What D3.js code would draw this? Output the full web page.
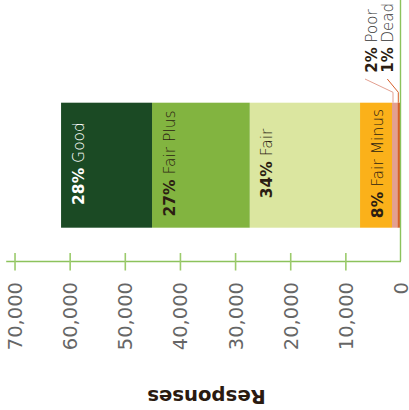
<!DOCTYPE html>
<html>
<head>
<meta charset="utf-8">
<script src="https://cdn.jsdelivr.net/npm/d3@7"></script>
<style>
  html, body { margin: 0; padding: 0; background: #ffffff; }
  svg { display: block; }
  text { font-family: "DejaVu Sans", sans-serif; }
</style>
</head>
<body>
<script>
// ---- data ----
const categories = ["Dead", "Poor", "Fair Minus", "Fair", "Fair Plus", "Good"];
const responses  = [580, 960, 5800, 20000, 17720, 16500];
const percents   = ["1%", "2%", "8%", "34%", "27%", "28%"];
const colors     = ["#d75f2a", "#e3a091", "#fbb11a", "#dbe6a0", "#82b440", "#1b4a24"];
const labelColors = ["#2b1d12", "#2b1d12", "#2b1d12", "#2b1d12", "#2b1d12", "#ffffff"];
const tickValues = [0, 10000, 20000, 30000, 40000, 50000, 60000, 70000];
const axisTitle  = "Responses";
const barGroup   = ["All trees"];

const W = 409, H = 410;
const svg = d3.select("body").append("svg").attr("width", W).attr("height", H);

// value scale runs right-to-left (chart rotated)
const x = d3.scaleLinear().domain([0, 71600]).range([400.5, 5.7]);
const y = d3.scaleBand().domain(barGroup).range([102.7, 227.7]).padding(0);

// stacked data
let cum = 0;
const segs = categories.map((c, i) => {
  const s = { name: c, value: responses[i], pct: percents[i], color: colors[i], lc: labelColors[i], x0: cum, x1: cum + responses[i] };
  cum += responses[i];
  return s;
});

// bars
svg.append("g").selectAll("rect").data(segs).join("rect")
  .attr("x", d => x(d.x1))
  .attr("width", d => x(d.x0) - x(d.x1))
  .attr("y", y(barGroup[0]))
  .attr("height", y.bandwidth())
  .attr("fill", d => d.color);

// axis
const axisY = 261;
const axisColor = "#8cc25c";
const axis = d3.axisBottom(x).tickValues(tickValues).tickSizeOuter(0).tickSizeInner(0)
  .tickFormat(d3.format(","));
const gx = svg.append("g").attr("transform", `translate(0,${axisY})`).call(axis);
gx.select(".domain").attr("stroke", axisColor).attr("stroke-width", 1.4);
gx.selectAll(".tick line")
  .attr("y1", -8).attr("y2", 9.5)
  .attr("stroke", "#9ccb6c").attr("stroke-width", 1.6)
  .attr("opacity", d => d === 0 ? 0 : 1);
gx.selectAll(".tick text")
  .attr("transform", "rotate(-90)")
  .attr("x", -21).attr("y", 0).attr("dy", "0.36em")
  .attr("text-anchor", "end")
  .attr("fill", "#666666")
  .attr("font-size", 19.5)
  .attr("font-weight", 400)
  .style("font-family", "'DejaVu Sans', sans-serif");

// category baseline (value 0) vertical line
svg.append("line")
  .attr("x1", x(0)).attr("x2", x(0))
  .attr("y1", 0).attr("y2", axisY)
  .attr("stroke", axisColor).attr("stroke-width", 1.4);

// axis title (upside down)
svg.append("text")
  .attr("transform", `translate(206.5,390) rotate(180)`)
  .attr("text-anchor", "middle")
  .attr("font-size", 19.7)
  .attr("font-weight", "bold")
  .attr("fill", "#2a1a10")
  .text(axisTitle);

// in-bar labels (big segments)
const inside = segs.filter(d => d.value > 3000);
const lab = svg.append("g").selectAll("text").data(inside).join("text")
  .attr("transform", d => `translate(${x(d.x1) + 22.5},163.5) rotate(-90)`)
  .attr("text-anchor", "middle")
  .attr("font-size", 15.5)
  .attr("fill", d => d.lc);
lab.append("tspan").attr("font-weight", "bold").text(d => d.pct);
lab.append("tspan").attr("font-weight", 300).text(d => " " + d.name);

// outside annotations for small segments
const outside = segs.filter(d => d.value <= 3000);
const annBase = { Dead: 393.3, Poor: 377.3 };
const annLineStart = { Dead: 387.3, Poor: 365 };
const ann = svg.append("g").selectAll("g").data(outside).join("g");
ann.append("path")
  .attr("d", d => {
    const xe = x(d.x1) + 1;
    return `M${annLineStart[d.name]},79 L${xe},92.3 L${xe},${y(barGroup[0])}`;
  })
  .attr("fill", "none")
  .attr("stroke", d => d.color)
  .attr("stroke-width", 1);
const at = ann.append("text")
  .attr("transform", d => `translate(${annBase[d.name]},72.7) rotate(-90)`)
  .attr("text-anchor", "start")
  .attr("font-size", 15)
  .attr("fill", "#2b1d12");
at.append("tspan").attr("font-weight", "bold").text(d => d.pct);
at.append("tspan").attr("font-weight", 300).attr("fill", "#333").text(d => " " + d.name);
</script>
</body>
</html>
